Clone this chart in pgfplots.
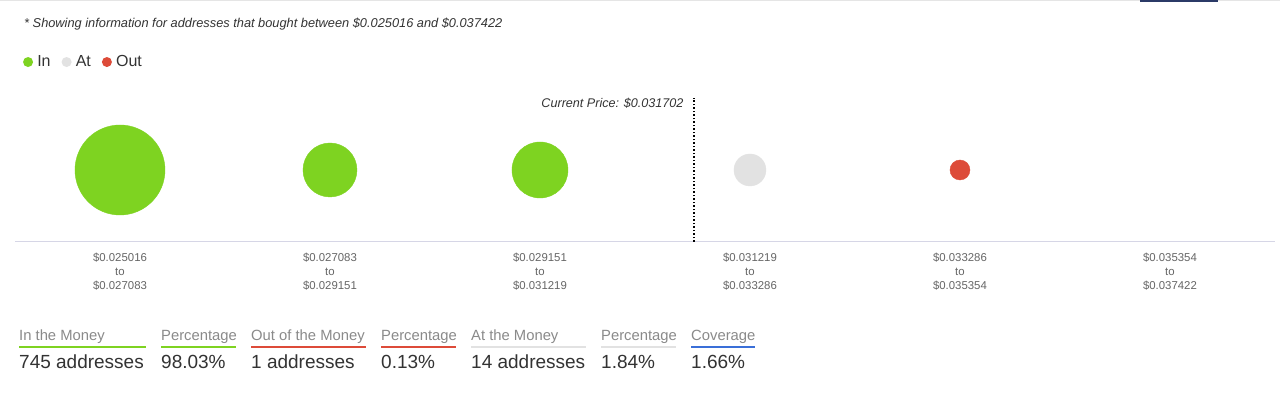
\documentclass[border=0pt]{standalone}
\usepackage{pgfplots}
\pgfplotsset{compat=1.18}
\usepackage{fontspec}
\setmainfont{Liberation Sans}
\definecolor{ingreen}{HTML}{7ED321}
\definecolor{atgray}{HTML}{E2E2E2}
\definecolor{outred}{HTML}{DD4B39}
\definecolor{covblue}{HTML}{3A6FD8}
\definecolor{axisline}{HTML}{D6D6E6}
\definecolor{ticktext}{HTML}{666666}
\definecolor{notetext}{HTML}{333333}
\definecolor{headtext}{HTML}{8A8A8A}
\definecolor{valtext}{HTML}{333333}
\definecolor{navy}{HTML}{2B3A67}
\pgfplotstableread{
x y r
0 0.4737 45
1 0.4737 27
2 0.4737 28
}\indata
\pgfplotstableread{
x y r
3 0.4737 16
}\atdata
\pgfplotstableread{
x y r
4 0.4737 10
}\outdata
\begin{document}
\begin{tikzpicture}
\useasboundingbox (0pt,0pt) rectangle (1280pt,396pt);
\fill[white] (0pt,0pt) rectangle (1280pt,396pt);
\draw[gray!20, line width=1.5pt] (0pt,395.25pt) -- (1280pt,395.25pt);
\fill[navy] (1140pt,394pt) rectangle (1218pt,396pt);
\node[anchor=base west, inner sep=0pt, font=\fontsize{12.8}{14}\selectfont\itshape, text=notetext] at (24pt,368pt) {* Showing information for addresses that bought between \$0.025016 and \$0.037422};
\begin{axis}[
  at={(15pt,154pt)}, anchor=south west, scale only axis,
  width=1260pt, height=152pt,
  xmin=-0.5, xmax=5.5, ymin=0, ymax=1,
  axis x line*=bottom, axis y line=none,
  x axis line style={-, draw=axisline, line width=1pt},
  xtick={0,1,2,3,4,5}, major tick length=0pt,
  xticklabels={{\$0.025016\\to\\\$0.027083},{\$0.027083\\to\\\$0.029151},{\$0.029151\\to\\\$0.031219},{\$0.031219\\to\\\$0.033286},{\$0.033286\\to\\\$0.035354},{\$0.035354\\to\\\$0.037422}},
  x tick label style={align=center, font=\fontsize{11.4}{14}\selectfont, text=ticktext, yshift=-8pt},
  clip=false,
  bubble/.style={scatter, only marks, mark=*,
    visualization depends on={\thisrow{r}\as\rad},
    scatter/use mapped color={draw=#1, fill=#1},
    scatter/@pre marker code/.append style={/tikz/mark size=\rad}},
  legend style={at={(0.0064,1.184)}, anchor=west, draw=none, fill=none,
    font=\fontsize{16}{18}\selectfont, text=notetext,
    /tikz/every even column/.append style={column sep=9pt},
    inner sep=0pt, outer sep=0pt},
  legend columns=-1,
  legend image code/.code={\fill[#1, draw=none] (0pt,0pt) circle (5pt); \path (7pt,0pt);},
]
\addplot[bubble=ingreen, forget plot] table[x=x,y=y] {\indata};
\addplot[bubble=atgray, forget plot] table[x=x,y=y] {\atdata};
\addplot[bubble=outred, forget plot] table[x=x,y=y] {\outdata};
\addplot[black, dotted, line width=1.5pt, forget plot] coordinates {(2.734,0) (2.734,0.947)};
\node[anchor=base east, inner sep=0pt, font=\fontsize{12.6}{14}\selectfont\itshape, text=notetext] at (axis cs:2.684,0.885) {Current Price: \$0.031702};
\addlegendimage{fill=ingreen}
\addlegendentry{In}
\addlegendimage{fill=atgray}
\addlegendentry{At}
\addlegendimage{fill=outred}
\addlegendentry{Out}
\end{axis}
% summary table
\foreach \xs/\xe/\col/\head/\val in {
  19/146/ingreen/In the Money/745 addresses,
  161/236/ingreen/Percentage/98.03\%,
  251/366/outred/Out of the Money/1 addresses,
  381/456/outred/Percentage/0.13\%,
  471/586/atgray/At the Money/14 addresses,
  601/676/atgray/Percentage/1.84\%,
  691/755/covblue/Coverage/1.66\%}{
  \node[anchor=base west, inner sep=0pt, font=\fontsize{14.8}{16}\selectfont, text=headtext] at (\xs pt,55pt) {\head};
  \draw[\col, line width=2pt] (\xs pt,49pt) -- (\xe pt,49pt);
  \node[anchor=base west, inner sep=0pt, font=\fontsize{19}{20}\selectfont, text=valtext] at (\xs pt,27pt) {\val};
}
\end{tikzpicture}
\end{document}
